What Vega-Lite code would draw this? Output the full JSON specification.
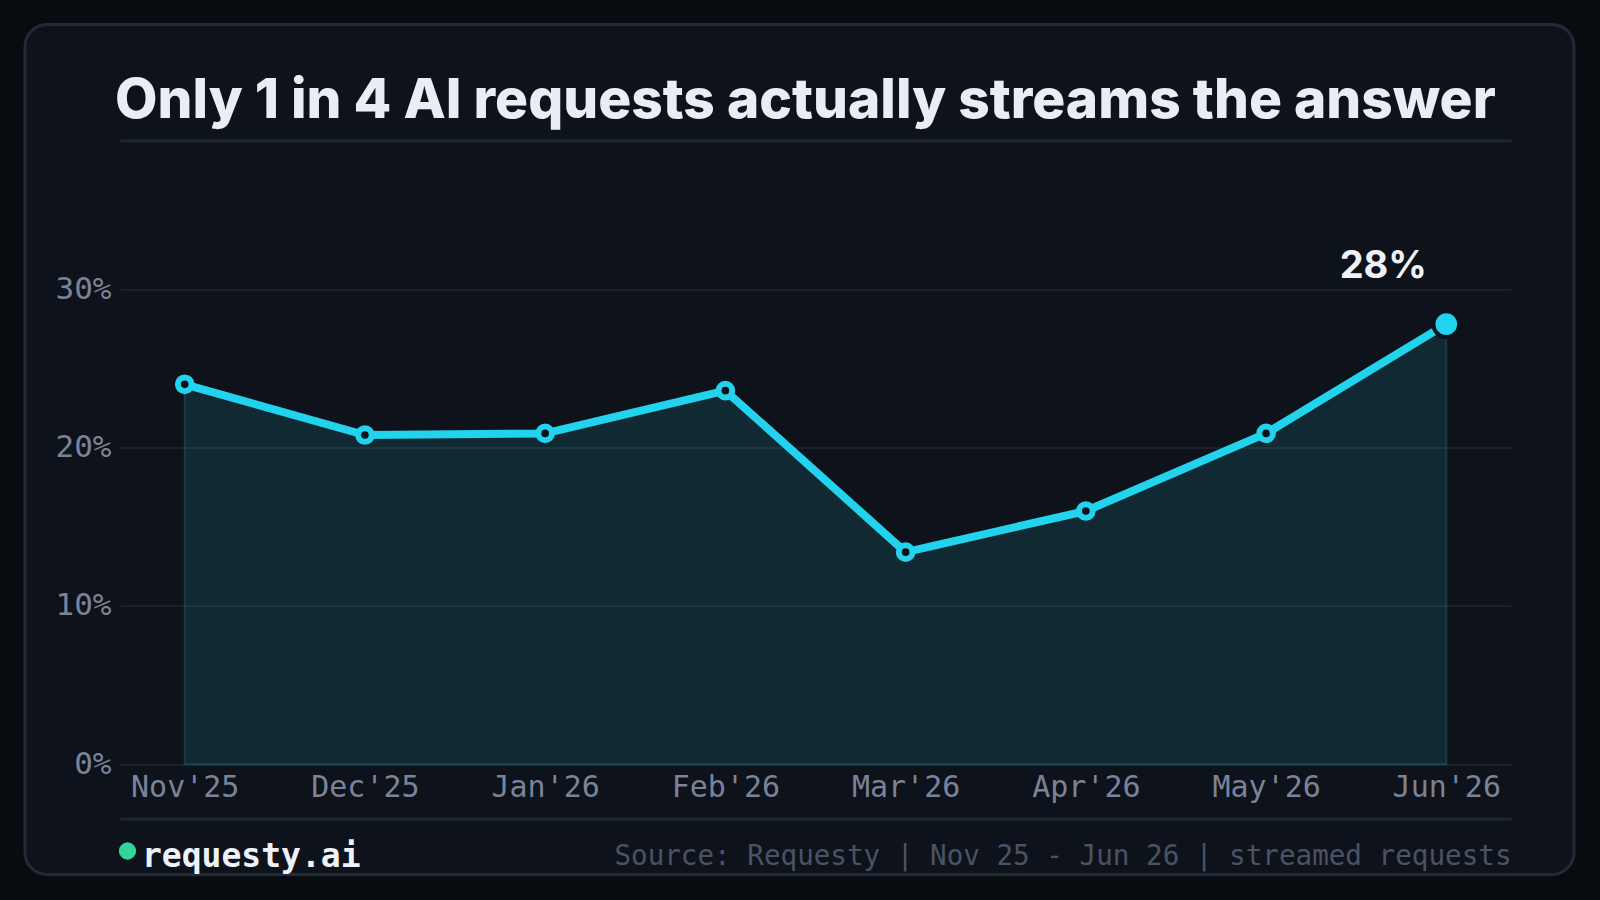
{
  "$schema": "https://vega.github.io/schema/vega-lite/v6.json",
  "width": 1549,
  "height": 850,
  "autosize": {"type": "none"},
  "padding": {"left": 25, "top": 24.5, "right": 26, "bottom": 25.5},
  "background": "#080b0f",
  "config": {
    "view": {"fill": "#0e121a", "stroke": "#222a37", "strokeWidth": 3, "cornerRadius": 22}
  },
  "title": {
    "text": "Only 1 in 4 AI requests actually streams the answer",
    "anchor": "start",
    "frame": "group",
    "baseline": "alphabetic",
    "offset": -148.5,
    "dx": 90,
    "font": "Inter",
    "fontSize": 55,
    "fontWeight": 800,
    "color": "#e9edf5"
  },
  "data": {
    "values": [
      {"month": "Nov'25", "share": 0.240},
      {"month": "Dec'25", "share": 0.208},
      {"month": "Jan'26", "share": 0.209},
      {"month": "Feb'26", "share": 0.236},
      {"month": "Mar'26", "share": 0.134},
      {"month": "Apr'26", "share": 0.160},
      {"month": "May'26", "share": 0.209},
      {"month": "Jun'26", "share": 0.278}
    ]
  },
  "encoding": {
    "x": {
      "field": "month",
      "type": "ordinal",
      "sort": null,
      "scale": {"type": "point", "range": [95, 1486], "padding": 0.359},
      "axis": {
        "orient": "bottom",
        "offset": -56,
        "domain": false,
        "ticks": false,
        "grid": false,
        "labelPadding": -31,
        "labelBaseline": "middle",
        "labelAngle": 0,
        "labelFont": "DejaVu Sans Mono",
        "labelFontSize": 30,
        "labelColor": "#7a8398",
        "labelOverlap": false,
        "title": "Source: Requesty | Nov 25 - Jun 26 | streamed requests",
        "titleFont": "DejaVu Sans Mono",
        "titleFontSize": 27.6,
        "titleFontWeight": "normal",
        "titleColor": "#4a5366",
        "titleX": 1486,
        "titleY": 46,
        "titleAlign": "right",
        "titleBaseline": "alphabetic"
      }
    },
    "y": {
      "field": "share",
      "type": "quantitative",
      "scale": {"domain": [-0.0339, 0.3943], "range": [793.5, 115.5], "nice": false, "zero": false},
      "axis": {
        "orient": "left",
        "offset": -86,
        "domain": false,
        "ticks": false,
        "tickSize": 0,
        "labelPadding": 0,
        "values": [-0.0339, 0, 0.1, 0.2, 0.3, 0.3943],
        "labelExpr": "datum.value >= -0.001 && datum.value <= 0.31 ? format(datum.value, '.0%') : ''",
        "labelFont": "DejaVu Sans Mono",
        "labelFontSize": 31,
        "labelColor": "#7a8398",
        "labelBaseline": "middle",
        "labelAlign": "right",
        "labelOverlap": false,
        "grid": true,
        "gridColor": {"condition": {"test": "datum.value < -0.01 || datum.value > 0.35", "value": "#1f2633"}, "value": "#1b212b"},
        "gridWidth": {"condition": {"test": "datum.value < -0.01 || datum.value > 0.35", "value": 3}, "value": 2},
        "title": null
      }
    }
  },
  "layer": [
    {
      "mark": {"type": "area", "fill": "#22d3ee", "fillOpacity": 0.12, "stroke": "#22d3ee", "strokeOpacity": 0.18, "strokeWidth": 2},
      "encoding": {"y2": {"datum": 0}}
    },
    {
      "mark": {"type": "line", "color": "#22d3ee", "strokeWidth": 8, "strokeCap": "round", "strokeJoin": "round"}
    },
    {
      "mark": {"type": "point", "shape": "circle", "filled": true, "size": 300, "opacity": 1},
      "encoding": {
        "color": {
          "datum": "requesty.ai",
          "scale": {"range": ["#34d399"]},
          "legend": {
            "orient": "none",
            "legendX": 86,
            "legendY": 810,
            "title": null,
            "padding": 0,
            "symbolType": "circle",
            "symbolSize": 300,
            "symbolStrokeWidth": 0,
            "symbolOpacity": 1,
            "labelOffset": -2,
            "labelLimit": 500,
            "labelFont": "DejaVu Sans Mono",
            "labelFontSize": 33,
            "labelFontWeight": "bold",
            "labelColor": "#eef2f8",
            "labelBaseline": "middle",
            "encode": {"labels": {"update": {"dy": {"value": 6}}}}
          }
        }
      }
    },
    {
      "transform": [{"filter": "datum.month != \"Jun'26\""}],
      "mark": {"type": "point", "shape": "circle", "filled": true, "fill": "#0e121a", "stroke": "#22d3ee", "strokeWidth": 6, "size": 186, "opacity": 1}
    },
    {
      "transform": [{"filter": "datum.month == \"Jun'26\""}],
      "mark": {"type": "point", "shape": "circle", "filled": true, "fill": "#22d3ee", "stroke": "#0e121a", "strokeWidth": 4, "size": 660, "opacity": 1}
    },
    {
      "transform": [{"filter": "datum.month == \"Jun'26\""}],
      "mark": {"type": "text", "font": "Inter", "fontSize": 38, "fontWeight": 700, "color": "#eef2f8", "dx": -63, "dy": -57, "align": "center", "baseline": "middle"},
      "encoding": {"text": {"field": "share", "format": ".0%"}}
    }
  ]
}
